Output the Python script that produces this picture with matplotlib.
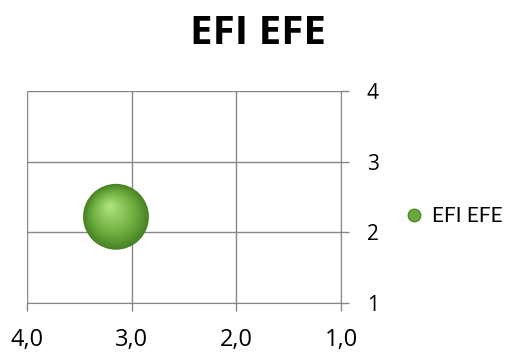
import matplotlib
matplotlib.use("Agg")
import matplotlib.pyplot as plt
import matplotlib.transforms as mtransforms
from matplotlib.lines import Line2D
import numpy as np

plt.rcParams['font.family'] = ['Open Sans', 'DejaVu Sans']

series_name = "EFI EFE"
x_vals = [3.15]
y_vals = [2.22]
x_ticks = [4.0, 3.0, 2.0, 1.0]
x_labels = ["4,0", "3,0", "2,0", "1,0"]
y_ticks = [1, 2, 3, 4]

fig = plt.figure(figsize=(5.09, 3.52), dpi=100)
ax = fig.add_axes([27/509, 1 - 303/352, (341-27)/509, (303-91)/352])

ax.set_xlim(4.0, 1.0)
ax.set_ylim(1, 4)
ax.set_xticks(x_ticks)
ax.set_xticklabels(x_labels)
ax.set_yticks(y_ticks)
ax.grid(True, color="#878787", linewidth=1.0)
ax.set_axisbelow(True)
for s in ["top", "left"]:
    ax.spines[s].set_visible(False)
ax.spines["right"].set_color("#878787")
ax.spines["bottom"].set_color("#878787")
ax.yaxis.tick_right()
ax.tick_params(axis="both", colors="#878787", labelcolor="black",
               length=6, width=1.0)
ax.tick_params(axis="y", pad=12.5, labelsize=15)
ax.tick_params(axis="x", pad=12, labelsize=17)

# shaded sphere: stack of circles getting lighter and shifting up-left
base_s = 2250
rad_pt = np.sqrt(base_s) / 2
dark = np.array([0x48, 0x82, 0x26]) / 255
mid = np.array([0x6c, 0xac, 0x3d]) / 255
light = np.array([0xac, 0xe0, 0x7a]) / 255
n = 30
for i in range(n):
    t = i / (n - 1)
    frac = 1 - 0.93 * t
    if t < 0.35:
        col = dark + (mid - dark) * (t / 0.35)
    else:
        col = mid + (light - mid) * ((t - 0.35) / 0.65)
    dx = -0.18 * rad_pt * t
    dy = 0.32 * rad_pt * t
    tr = mtransforms.offset_copy(ax.transData, fig=fig, x=dx, y=dy, units="points")
    ax.scatter(x_vals, y_vals, s=base_s * frac ** 2, color=col, edgecolors="none",
               transform=tr, zorder=3, clip_on=False)

fig.text(258/509, 1 - 44/352, series_name, ha="center", va="baseline",
         fontsize=29, fontweight="bold")

handle = Line2D([], [], marker="o", linestyle="none", markersize=9,
                markerfacecolor="#6aaa3c", markeredgecolor="#4f8a2b")
fig.legend([handle], [series_name], loc="center left",
           bbox_to_anchor=(406/509, 1 - 216/352), frameon=False,
           prop={"family": ["Lato", "DejaVu Sans"], "size": 15},
           borderaxespad=0, borderpad=0,
           handletextpad=0.45, handlelength=0.8)

fig.savefig("out.png", dpi=100)
